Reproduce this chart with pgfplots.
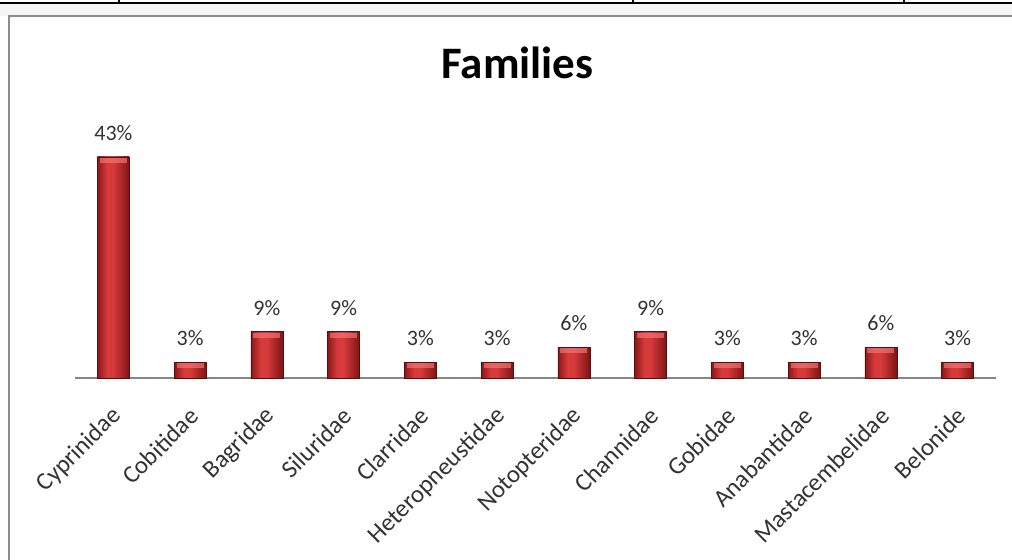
\documentclass[border=0pt]{standalone}
\usepackage{pgfplots}
\pgfplotsset{compat=1.18}
\usepackage{fontspec}
\setmainfont{Carlito}
\definecolor{barL}{HTML}{8A1818}
\definecolor{barM}{HTML}{D63A3A}
\definecolor{barR}{HTML}{7E1414}
\definecolor{barCap}{HTML}{F27A7A}
\definecolor{txt}{HTML}{333333}
\definecolor{axg}{HTML}{868686}
\definecolor{frameg}{HTML}{8C8C8C}
\pgfdeclarehorizontalshading{barshade}{100bp}{color(0bp)=(barL); color(25bp)=(barL); color(40bp)=(barM); color(50bp)=(barM); color(75bp)=(barR); color(100bp)=(barR)}
\pgfdeclareplotmark{cap}{%
  \pgfpathrectangle{\pgfpoint{-6.8pt}{-2.9pt}}{\pgfpoint{13.6pt}{2.5pt}}%
  \pgfusepathqfill}
\pgfplotsset{
  mybar/.style={ybar, bar shift=0pt, bar width=16pt, draw=barR!70!black, line width=0.3pt,
    shading=barshade,
    nodes near coords={\pgfmathprintnumber[fixed,precision=0]{\pgfplotspointmeta}\%},
    nodes near coords style={anchor=center, yshift=12pt, font=\fontsize{11}{13}\selectfont, text=txt},
    point meta=y},
  mycap/.style={only marks, mark=cap, mark options={fill=barCap, draw=none, fill opacity=0.65}},
}
\begin{document}
\begin{tikzpicture}[x=0.5pt,y=0.5pt]
\fill[white] (0,0) rectangle (1012,559);
% table lines at top
\fill[black!4] (0,555) rectangle (1012,543);
\draw[black, line width=0.8pt] (0,556) -- (1012,556);
\foreach \xx in {119,633,904} {\draw[black, line width=0.8pt] (\xx,559) -- (\xx,556);}
% chart frame
\draw[frameg, line width=0.9pt] (9,-20) -- (9,543) -- (1030,543);
\node[anchor=base, font=\fontsize{22.5}{27}\selectfont\bfseries] at (517.5,481) {Families};
\begin{axis}[
  at={(37.5pt,90.5pt)}, anchor=south west,
  scale only axis, width=460.5pt, height=119pt,
  xmin=-0.5, xmax=11.5, ymin=0, ymax=46.3,
  axis x line*=bottom, axis y line=none,
  x axis line style={axg, line width=0.8pt},
  xtick={0,...,11},
  xticklabels={Cyprinidae,Cobitidae,Bagridae,Siluridae,Clarridae,Heteropneustidae,Notopteridae,Channidae,Gobidae,Anabantidae,Mastacembelidae,Belonide},
  major tick length=0pt,
  ytick=\empty,
  xticklabel style={xshift=4.5pt, yshift=-14.5pt, rotate=45, anchor=east, font=\fontsize{12.4}{14}\selectfont, text=txt},
  /pgf/number format/assume math mode=true,
  clip=false,
]
\addplot[mybar] coordinates {(0,43)};
\addplot[mybar] coordinates {(1,3)};
\addplot[mybar] coordinates {(2,9)};
\addplot[mybar] coordinates {(3,9)};
\addplot[mybar] coordinates {(4,3)};
\addplot[mybar] coordinates {(5,3)};
\addplot[mybar] coordinates {(6,6)};
\addplot[mybar] coordinates {(7,9)};
\addplot[mybar] coordinates {(8,3)};
\addplot[mybar] coordinates {(9,3)};
\addplot[mybar] coordinates {(10,6)};
\addplot[mybar] coordinates {(11,3)};
\addplot[mycap] coordinates {(0,43) (1,3) (2,9) (3,9) (4,3) (5,3) (6,6) (7,9) (8,3) (9,3) (10,6) (11,3)};
\end{axis}
\pgfresetboundingbox
\useasboundingbox (0,0) rectangle (1012,559);
\end{tikzpicture}
\end{document}
